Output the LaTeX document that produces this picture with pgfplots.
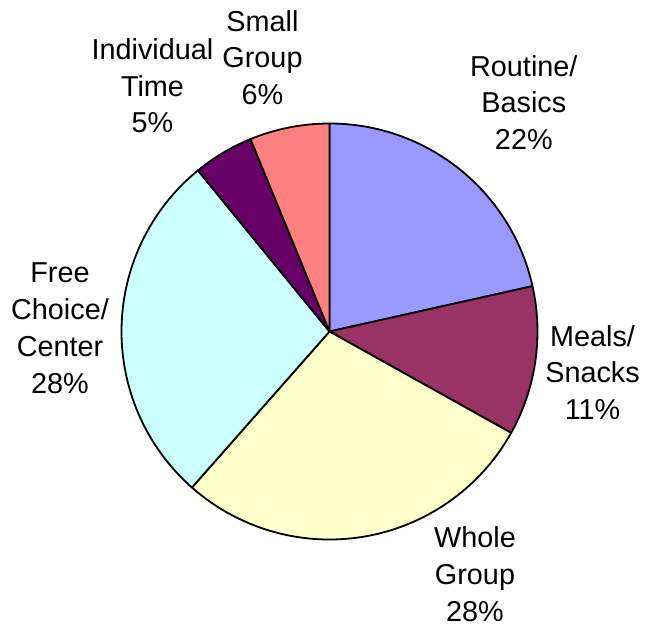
\documentclass[border=0pt]{standalone}
\usepackage{pgfplots}
\pgfplotsset{compat=1.18}
\usepackage{fontspec}
\setmainfont{Liberation Sans}

\definecolor{routine}{HTML}{9999FF}
\definecolor{meals}{HTML}{993366}
\definecolor{whole}{HTML}{FFFFCC}
\definecolor{free}{HTML}{CCFFFF}
\definecolor{indiv}{HTML}{660066}
\definecolor{small}{HTML}{FF8080}

\begin{document}
\begin{tikzpicture}[
  lbl/.style={anchor=north, align=center, inner sep=0pt,
    font=\fontsize{14.4}{18.35}\selectfont},
]
\begin{axis}[
  width=323pt, height=313.5pt, scale only axis,
  xmin=0, xmax=646, ymin=0, ymax=627,
  hide axis, clip=false,
]
\path (rel axis cs:0,0) rectangle (rel axis cs:1,1);
% slices clockwise from 12 o'clock, values in percent
\gdef\curang{90}
\foreach \v/\c in {21.5/routine, 11.6/meals, 28.4/whole, 27.6/free, 4.7/indiv, 6.2/small} {
  \pgfmathsetmacro{\nextang}{\curang-3.6*\v}
  \edef\temp{\noexpand\filldraw[fill=\c, draw=black, line width=0.9pt, line join=round]
    (axis cs:329.5,295.5) -- ++(\curang:104pt)
    arc[start angle=\curang, end angle=\nextang, radius=104pt] -- cycle;}
  \temp
  \xdef\curang{\nextang}
}
\node[lbl] at (axis cs:523.8,572) {Routine/\\Basics\\22\%};
\node[lbl] at (axis cs:592.5,302) {Meals/\\Snacks\\11\%};
\node[lbl] at (axis cs:475,100.3) {Whole\\Group\\28\%};
\node[lbl] at (axis cs:60,364.3) {Free\\Choice/\\Center\\28\%};
\node[lbl] at (axis cs:152.5,588.7) {Individual\\Time\\5\%};
\node[lbl] at (axis cs:262.5,617) {Small\\Group\\6\%};
\end{axis}
\end{tikzpicture}
\end{document}
